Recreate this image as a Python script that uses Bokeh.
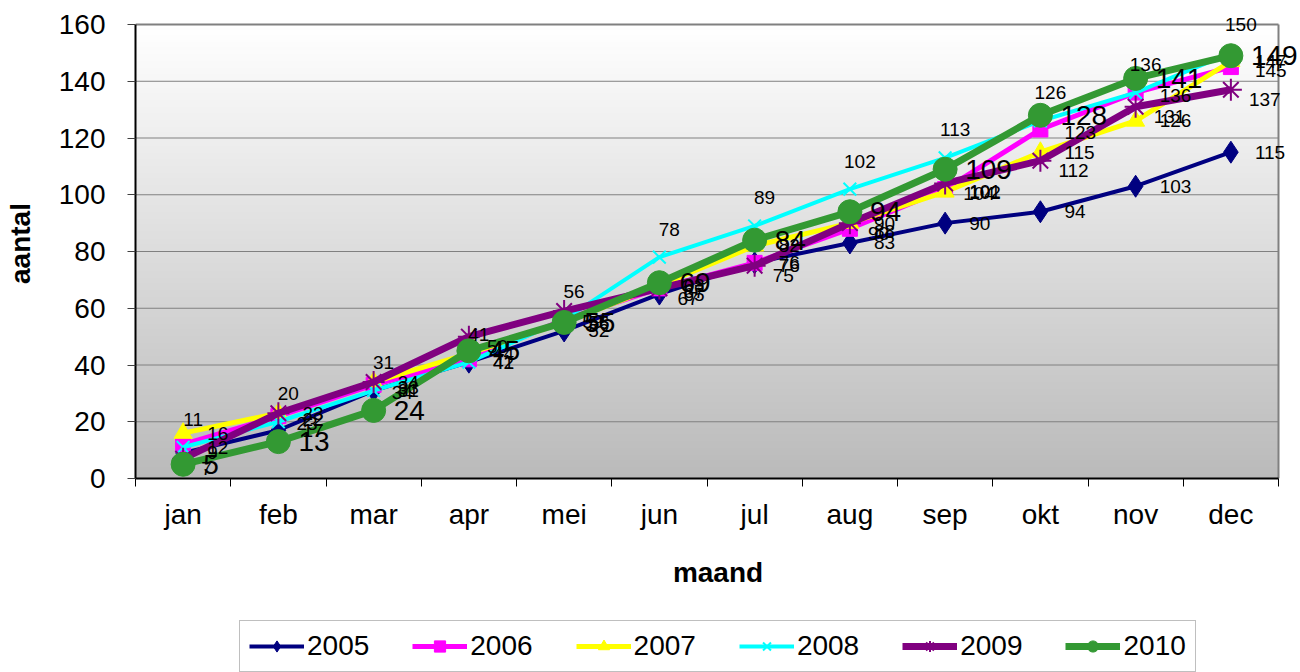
import numpy as np
from bokeh.plotting import figure
from bokeh.layouts import column
from bokeh.models import Range1d, FixedTicker, ColumnDataSource, LabelSet, Legend, LegendItem
from bokeh.embed import file_html
from bokeh.resources import INLINE
from bokeh.core.properties import value

months = ["jan", "feb", "mar", "apr", "mei", "jun", "jul", "aug", "sep", "okt", "nov", "dec"]
years = ["2005", "2006", "2007", "2008", "2009", "2010"]
v2005 = [9, 17, 31, 41, 52, 65, 76, 83, 90, 94, 103, 115]
v2006 = [12, 22, 33, 42, 56, 67, 76, 88, 102, 123, 136, 145]
v2007 = [16, 23, 34, 44, 55, 68, 82, 90, 101, 115, 126, 147]
v2008 = [11, 20, 31, 41, 56, 78, 89, 102, 113, 126, 136, 150]
v2009 = [7, 23, 34, 50, 59, 67, 75, 90, 104, 112, 131, 137]
v2010 = [5, 13, 24, 45, 55, 69, 84, 94, 109, 128, 141, 149]
y_ticks = [0, 20, 40, 60, 80, 100, 120, 140, 160]

series = [v2005, v2006, v2007, v2008, v2009, v2010]

FONT = "Liberation Sans"
n = len(months)
ymin, ymax = y_ticks[0], y_ticks[-1]

# the frame is a bit larger than the chart box so data labels are not clipped
p = figure(width=1300, height=620, output_backend="svg", toolbar_location=None,
           x_range=Range1d(0, n * 1165 / 1143), y_range=Range1d(ymin, ymax * 470 / 454),
           min_border_left=135, min_border_right=0, min_border_top=8, min_border_bottom=142)
p.background_fill_color = "white"
p.border_fill_color = "white"
p.outline_line_color = None

# gradient background of the chart box
N = 256
img = np.zeros((N, 1), dtype=np.uint32)
view = img.view(dtype=np.uint8).reshape((N, 1, 4))
for i in range(N):
    t = i / (N - 1)
    g = int(round(186 + (255 - 186) * t))
    view[i, 0, 0] = g
    view[i, 0, 1] = g
    view[i, 0, 2] = g
    view[i, 0, 3] = 255
p.image_rgba(image=[img], x=0, y=ymin, dw=n, dh=ymax - ymin, level="image")

# horizontal grid lines and box border (top and right)
p.segment(x0=[0] * (len(y_ticks) - 2), x1=[n] * (len(y_ticks) - 2), y0=y_ticks[1:-1], y1=y_ticks[1:-1],
          line_color="#808080", line_width=1, level="underlay")
p.segment(x0=[0, n], x1=[n, n], y0=[ymax, ymin], y1=[ymax, ymax],
          line_color="#808080", line_width=2, level="underlay")

# axes
xa = p.xaxis[0]
centers = [i + 0.5 for i in range(n)]
xa.bounds = (0, n)
xa.ticker = FixedTicker(ticks=centers, minor_ticks=list(range(n + 1)))
xa.major_label_overrides = {c: m for c, m in zip(centers, months)}
xa.major_tick_line_color = None
xa.major_tick_out = 0
xa.major_tick_in = 0
xa.minor_tick_out = 8
xa.minor_tick_in = 0
xa.minor_tick_line_color = "black"
xa.axis_line_color = "black"
xa.axis_line_width = 2
xa.major_label_text_font = FONT
xa.major_label_text_font_size = "28px"
xa.major_label_text_color = "black"
xa.major_label_standoff = 12
xa.axis_label = "maand"
xa.axis_label_text_font = FONT
xa.axis_label_text_font_size = "28px"
xa.axis_label_text_font_style = "bold"
xa.axis_label_text_color = "black"
xa.axis_label_standoff = 24

ya = p.yaxis[0]
ya.bounds = (ymin, ymax)
ya.ticker = FixedTicker(ticks=y_ticks)
ya.major_tick_out = 8
ya.major_tick_in = 0
ya.minor_tick_line_color = None
ya.major_tick_line_color = "#404040"
ya.axis_line_color = "black"
ya.axis_line_width = 2
ya.major_label_text_font = FONT
ya.major_label_text_font_size = "28px"
ya.major_label_text_color = "black"
ya.major_label_standoff = 22
ya.axis_label = "aantal"
ya.axis_label_text_font = FONT
ya.axis_label_text_font_size = "28px"
ya.axis_label_text_font_style = "bold"
ya.axis_label_text_color = "black"
ya.axis_label_standoff = 20

p.xgrid.grid_line_color = None
p.ygrid.grid_line_color = None

styles = [
    dict(color="#000080", lw=4, marker="diamond", size=22, mlw=1, fill=True),
    dict(color="#FF00FF", lw=5, marker="square", size=15, mlw=1, fill=True),
    dict(color="#FFFF00", lw=5, marker="triangle", size=18, mlw=1, fill=True),
    dict(color="#00FFFF", lw=4, marker="x", size=18, mlw=2, fill=False),
    dict(color="#800080", lw=7, marker="asterisk", size=22, mlw=2, fill=False),
    dict(color="#339933", lw=7, marker="circle", size=24, mlw=1, fill=True),
]
label_style = [
    dict(xo=24, yo=0, align="left", size="19px"),
    dict(xo=24, yo=-3, align="left", size="19px"),
    dict(xo=24, yo=0, align="left", size="19px"),
    dict(xo=10, yo=28, align="center", size="19px"),
    dict(xo=18, yo=-10, align="left", size="19px"),
    dict(xo=20, yo=0, align="left", size="28px"),
]

# legend lives in a small second figure below the chart
pl = figure(width=1300, height=52, output_backend="svg", toolbar_location=None,
            x_range=Range1d(0, 1), y_range=Range1d(0, 1), x_axis_type=None, y_axis_type=None,
            min_border_left=0, min_border_right=0, min_border_top=0, min_border_bottom=0)
pl.outline_line_color = None
pl.xgrid.grid_line_color = None
pl.ygrid.grid_line_color = None
pl.background_fill_color = "white"
pl.border_fill_color = "white"

items = []
for yr, vals, st, ls in zip(years, series, styles, label_style):
    src = ColumnDataSource(dict(x=centers, y=vals, t=[str(v) for v in vals]))
    p.line("x", "y", source=src, line_color=st["color"], line_width=st["lw"])
    p.scatter("x", "y", source=src, marker=st["marker"], size=st["size"],
              line_color=st["color"], fill_color=st["color"] if st["fill"] else None,
              line_width=st["mlw"])
    lab = LabelSet(x="x", y="y", text="t", source=src, x_offset=ls["xo"], y_offset=ls["yo"],
                   text_align=ls["align"], text_baseline="middle",
                   text_font=value(FONT), text_font_size=ls["size"], text_color="black")
    p.add_layout(lab)
    # legend swatch renderers (points outside the visible range)
    lsrc = ColumnDataSource(dict(x=[-10, -9], y=[-10, -10]))
    ln2 = pl.line("x", "y", source=lsrc, line_color=st["color"], line_width=st["lw"])
    sc2 = pl.scatter("x", "y", source=lsrc, marker=st["marker"], size=st["size"] * 0.85,
                     line_color=st["color"], fill_color=st["color"] if st["fill"] else None,
                     line_width=st["mlw"])
    items.append(LegendItem(label=yr, renderers=[ln2, sc2]))

legend = Legend(items=items, orientation="horizontal", location=(104, 0),
                label_text_font=FONT, label_text_font_size="28px", label_text_color="black",
                glyph_width=55, glyph_height=28, label_standoff=3, spacing=43, padding=9,
                border_line_color="#808080", border_line_width=1, background_fill_color="white",
                background_fill_alpha=1.0, margin=0)
pl.add_layout(legend, "center")

layout = column(p, pl, spacing=0)
open("out.html", "w").write(file_html(layout, INLINE))
